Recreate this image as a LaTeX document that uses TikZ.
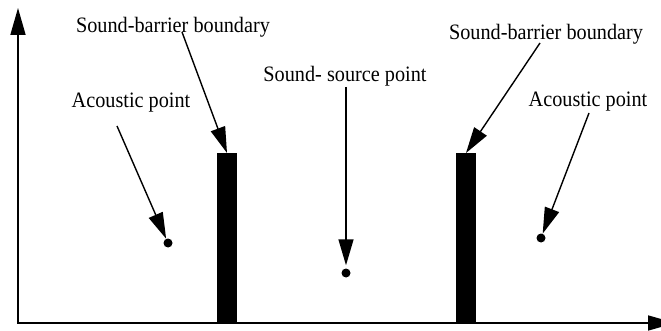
\documentclass[tikz,border=0pt]{standalone}
\usepackage{fontspec}
\usepackage{graphicx}
\setmainfont{Liberation Serif}
\usetikzlibrary{arrows.meta}
\newcommand{\lbltext}[1]{\scalebox{0.92}[1]{\fontsize{22}{26}\selectfont #1}}
\begin{document}
\begin{tikzpicture}[x=1pt,y=-1pt,
  lbl/.style={anchor=base,inner sep=0pt},
  bar/.style={fill=black,draw=none,minimum width=20pt,minimum height=170pt,inner sep=0pt,anchor=north},
  dot/.style={circle,fill=black,draw=none,minimum size=9pt,inner sep=0pt},
  axis/.style={line width=1.7pt,-{Triangle[length=27pt,width=15pt]}},
  ptr/.style={line width=1.4pt,-{Triangle[length=26pt,width=15pt]}}]
\useasboundingbox (0,0) rectangle (661,331);
% axes
\coordinate (O) at (18,323);
\coordinate (Ytip) at (18,8);
\coordinate (Xtip) at (675,323);
\draw[axis] (O) -- (Ytip);
\draw[axis] ([xshift=-0.85pt]O) -- (Xtip);
% barriers
\node[bar] (bar1) at (227,153) {};
\node[bar] (bar2) at (466,153) {};
% points
\node[dot] (dotL) at (168,243) {};
\node[dot] (dotS) at (346,273) {};
\node[dot] (dotR) at (541,238) {};
% labels
\node[lbl] (barL) at (173,33) {\lbltext{Sound-barrier boundary}};
\node[lbl] (acL) at (131,108) {\lbltext{Acoustic point}};
\node[lbl] (src) at (345,82) {\lbltext{Sound- source point}};
\node[lbl] (barR) at (546,40) {\lbltext{Sound-barrier boundary}};
\node[lbl] (acR) at (588,107) {\lbltext{Acoustic point}};
% arrow starts
\coordinate (sBarL) at (182,32);
\coordinate (sAcL) at (117,126);
\coordinate (sSrc) at (346,87);
\coordinate (sBarR) at (540,43);
\coordinate (sAcR) at (589,113);
\draw[ptr] (sBarL) -- (bar1.north);
\draw[ptr] (sAcL) -- (dotL);
\draw[ptr,shorten >=3pt] (sSrc) -- (dotS);
\draw[ptr] (sBarR) -- (bar2.north);
\draw[ptr] (sAcR) -- (dotR);
\end{tikzpicture}
\end{document}
